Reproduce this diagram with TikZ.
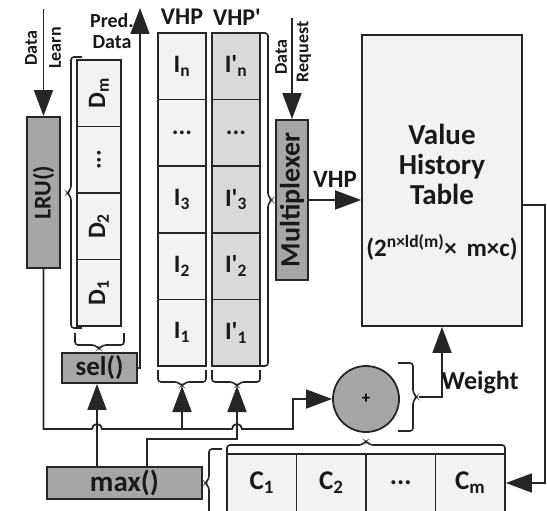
\documentclass[tikz,border=0pt]{standalone}
\usepackage{fontspec}
\setmainfont{Carlito}
\usetikzlibrary{arrows.meta}
\definecolor{linec}{HTML}{262626}
\definecolor{darkg}{HTML}{A6A6A6}
\definecolor{lightg}{HTML}{F2F2F2}
\definecolor{midg}{HTML}{D9D9D9}
\newcommand{\fs}[1]{\fontsize{#1}{#1}\selectfont}
\newcommand{\mydots}{...}
\newcommand{\pr}{\textquotesingle}
\begin{document}
\begin{tikzpicture}[x=1pt,y=-1pt,
  line/.style={draw=linec, line width=1.8pt},
  arr/.style={line, -{Triangle[length=26pt,width=19pt]}},
  brc/.style={draw=linec, line width=1.6pt, rounded corners=3pt},
  darkbox/.style={draw=linec, line width=1.8pt, fill=darkg, inner sep=0pt, text=black!90, font=\bfseries\fs{25}},
  cell/.style={draw=linec, line width=1.8pt, fill=lightg, inner sep=0pt, text=black!90, font=\bfseries\fs{25}},
  cellb/.style={cell, fill=midg},
  lbl/.style={inner sep=0pt, text=black!90, font=\bfseries\fs{18}},
  biglbl/.style={inner sep=0pt, text=black!90, font=\bfseries\fs{24}}
]
\clip (0,0) rectangle (547,511);
\fill[white] (0,0) rectangle (547,511);

% LRU
\node[darkbox, minimum width=33pt, minimum height=151pt, font=\bfseries\fs{24}] (lru) at (43.5,192.5) {\rotatebox{90}{LRU()}};
\coordinate (dl) at (43.5,9);
\draw[arr] (dl) -- (lru.north);
\node[lbl] (dlt) at (31,48) {\rotatebox{90}{Data}};
\node[lbl] (dln) at (55,48) {\rotatebox{90}{Learn}};

% D column
\node[cell, minimum width=44pt, minimum height=66.5pt] (dm) at (99,93.25) {\rotatebox{90}{D\textsubscript{m}}};
\node[cell, minimum width=44pt, minimum height=66.5pt] (dd) at (99,159.75) {\rotatebox{90}{\mydots}};
\node[cell, minimum width=44pt, minimum height=66.5pt] (d2) at (99,226.25) {\rotatebox{90}{D\textsubscript{2}}};
\node[cell, minimum width=44pt, minimum height=66.5pt] (d1) at (99,292.75) {\rotatebox{90}{D\textsubscript{1}}};
\draw[brc] (82,57) -| (71,189) -- (67,193) -- (71,197) |- (82,328);
\draw[brc] (75,333) |- (95,345) -- (99,349) -- (103,345) -| (124,333);

% sel
\node[darkbox, minimum width=75pt, minimum height=30pt, font=\bfseries\fs{27}] (sel) at (99.5,368) {sel()};
\coordinate (pd) at (140,8);
\draw[arr] (sel.east) -| (pd);
\node[lbl, font=\bfseries\fs{20}] (prd) at (112,21) {Pred.};
\node[lbl, font=\bfseries\fs{20}] (pdt) at (112,42) {Data};

% VHP columns
\node[biglbl] (vhpl) at (182,17) {VHP};
\node[biglbl] (vhpql) at (237,17) {VHP\pr};
\foreach \t/\y [count=\i] in {I\textsubscript{n}/66.3, \mydots/132.9, I\textsubscript{3}/199.5, I\textsubscript{2}/266.1, I\textsubscript{1}/332.7}{
  \node[cell, minimum width=48pt, minimum height=66.6pt] (v\i) at (182,\y) {\t};
}
\foreach \t/\y [count=\i] in {I\pr\textsubscript{n}/66.3, \mydots/132.9, I\pr\textsubscript{3}/199.5, I\pr\textsubscript{2}/266.1, I\pr\textsubscript{1}/332.7}{
  \node[cellb, minimum width=48pt, minimum height=66.6pt] (w\i) at (236,\y) {\t};
}
\draw[brc] (260,33) -| (268,196) -- (272,200) -- (268,204) |- (260,366);
\draw[brc] (158,370) |- (178,382) -- (182,386) -- (186,382) -| (206,370);
\draw[brc] (212,370) |- (233,382) -- (237,386) -- (241,382) -| (260,370);
\coordinate (vb) at (182,386);
\coordinate (wb) at (237,386);

% Multiplexer
\node[darkbox, minimum width=32pt, minimum height=160pt, font=\bfseries\fs{28}] (mux) at (292,200) {\rotatebox{90}{Multiplexer}};
\coordinate (dr) at (292,18);
\draw[arr] (dr) -- (mux.north);
\node[lbl] (drt) at (281,57) {\rotatebox{90}{Data}};
\node[lbl] (drr) at (304,52) {\rotatebox{90}{Request}};

% VHT
\node[draw=linec, line width=1.8pt, fill=lightg, minimum width=160pt, minimum height=291pt] (vht) at (442,180.5) {};
\node[inner sep=0pt, align=center, text=black!90, font=\bfseries\fs{29}] (vhtt) at (442,164) {Value\\[1pt]History\\[1pt]Table};
\node[inner sep=0pt, text=black!90, font=\bfseries\fs{25}] (vhtf) at (442,247) {(2\textsuperscript{n×ld(m)}× \,m×c)};
\draw[arr] (mux.east) -- (mux.east -| vht.west);
\node[biglbl, font=\bfseries\fs{25}] (vhpa) at (335,179) {VHP};

% C row
\foreach \t/\x [count=\i] in {C\textsubscript{1}/261.75, C\textsubscript{2}/331.25, \mydots/400.75, C\textsubscript{m}/470.25}{
  \node[cell, minimum width=69.5pt, minimum height=58pt, font=\bfseries\fs{27}] (c\i) at (\x,483) {\t};
}
\draw[brc] (227,454) |- (362,445) -- (366,441) -- (370,445) -| (505,454);
\draw[brc] (222,449) -| (209,479) -- (205,483) -- (209,487) |- (222,517);
\coordinate (vo) at (522,205);
\draw[arr] (vo) -- (545,205) |- (c4.east);

% max
\node[darkbox, minimum width=155pt, minimum height=32pt, font=\bfseries\fs{29}] (max) at (124.5,483) {max()};

% plus
\node[circle, draw=linec, line width=1.8pt, fill=darkg, minimum size=66pt, inner sep=0pt, font=\bfseries\fs{17}] (plus) at (366,399) {+};
\draw[brc] (398,363) -| (413,393) -- (417,397) -- (413,401) |- (398,431);
\coordinate (wt) at (419,397);
\draw[arr] (wt) -| (vht.south);
\node[biglbl, font=\bfseries\fs{26}] (wl) at (480,383) {Weight};

% connections
\draw[arr] (lru.south) |- (92,429) arc[start angle=180,end angle=360,radius=5] -- (232,429) arc[start angle=180,end angle=360,radius=5] -- (293,429) |- (plus.west);
\draw[arr] (182,429) -- (vb);
\coordinate (m1) at (97,467);
\draw[arr] (m1) -- (m1 |- sel.south);
\coordinate (m2) at (147,467);
\draw[arr] (m2) |- (237,439) -- (wb);
\end{tikzpicture}
\end{document}
